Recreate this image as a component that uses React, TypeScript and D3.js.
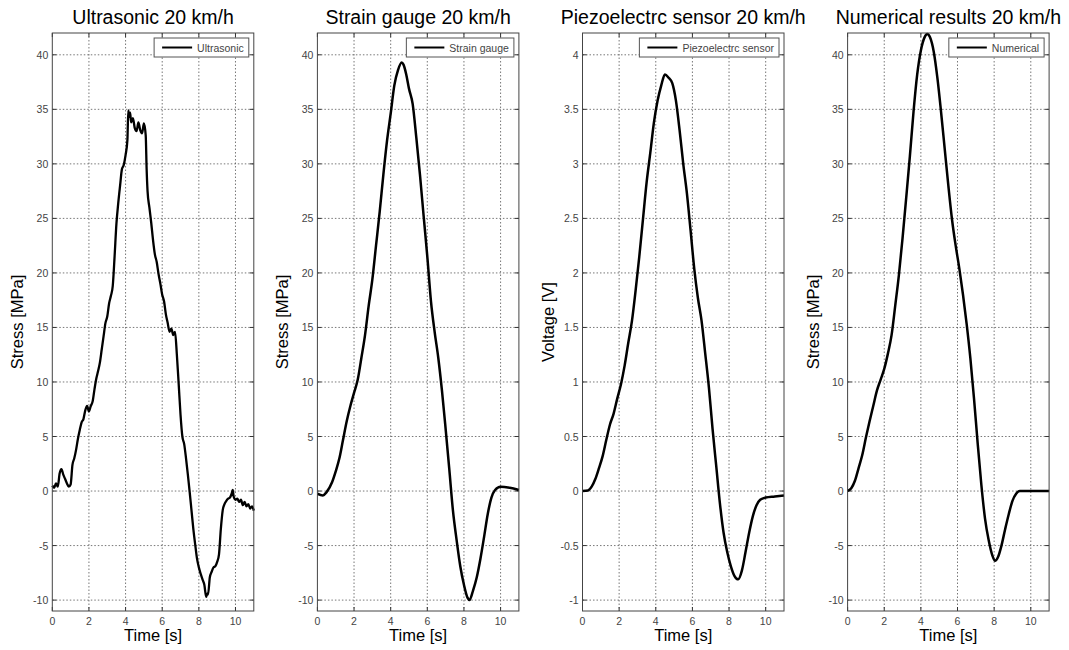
import React, { useEffect, useRef } from "react";
import * as d3 from "d3";

// [time s, value] pairs
const ultrasonic: [number, number][] = [
  [0, 0.5], [0.1, 0.3], [0.2, 0.7], [0.3, 0.4], [0.4, 1.6], [0.5, 2.0], [0.6, 1.5], [0.7, 1.1],
  [0.8, 0.7], [0.9, 0.4], [1.0, 0.6], [1.1, 2.4], [1.2, 3.0], [1.3, 3.8], [1.4, 4.8], [1.5, 5.6],
  [1.6, 6.3], [1.7, 6.6], [1.8, 7.4], [1.9, 7.8], [2.0, 7.3], [2.1, 7.8], [2.2, 8.2], [2.3, 9.3],
  [2.4, 10.3], [2.5, 11.0], [2.6, 11.8], [2.7, 13.0], [2.8, 14.2], [2.9, 15.4], [3.0, 16.0],
  [3.1, 17.2], [3.2, 17.9], [3.3, 18.8], [3.4, 21.5], [3.5, 24.5], [3.6, 26.4], [3.7, 28.0],
  [3.8, 29.5], [3.9, 29.9], [4.0, 30.8], [4.1, 32.2], [4.15, 34.9], [4.2, 34.3], [4.25, 34.7],
  [4.3, 33.8], [4.4, 34.2], [4.5, 33.3], [4.6, 33.0], [4.7, 33.8], [4.8, 33.1], [4.9, 32.8],
  [5.0, 33.7], [5.1, 32.6], [5.15, 29.5], [5.2, 27.5], [5.3, 26.0], [5.4, 24.6], [5.5, 23.0],
  [5.6, 21.7], [5.7, 21.0], [5.8, 19.9], [5.9, 19.0], [6.0, 18.0], [6.1, 17.4], [6.2, 16.2],
  [6.3, 15.4], [6.4, 14.6], [6.5, 14.9], [6.6, 14.3], [6.7, 14.6], [6.8, 12.5], [6.9, 9.8],
  [7.0, 7.0], [7.1, 5.0], [7.2, 4.3], [7.3, 3.0], [7.4, 1.5], [7.5, -0.1], [7.6, -1.8],
  [7.7, -3.5], [7.8, -4.9], [7.9, -6.2], [8.0, -7.0], [8.1, -7.6], [8.2, -8.1], [8.3, -8.6],
  [8.4, -9.7], [8.45, -9.4], [8.5, -9.5], [8.6, -7.9], [8.7, -7.4], [8.8, -7.0], [8.9, -6.9],
  [9.0, -6.5], [9.1, -5.8], [9.2, -3.5], [9.3, -1.8], [9.4, -1.2], [9.5, -0.9], [9.6, -0.7],
  [9.7, -0.6], [9.8, -0.2], [9.85, 0.1], [9.9, -0.5], [10.0, -0.8], [10.1, -0.7], [10.2, -1.0],
  [10.3, -0.8], [10.4, -1.3], [10.5, -1.0], [10.6, -1.4], [10.7, -1.2], [10.8, -1.6],
  [10.9, -1.4], [11.0, -1.8],
];

const strainGauge: [number, number][] = [
  [0, -0.25], [0.3, -0.4], [0.5, -0.1], [0.8, 0.8], [1.0, 1.8], [1.2, 3.0], [1.4, 4.7],
  [1.6, 6.4], [1.8, 7.8], [2.0, 9.0], [2.2, 10.2], [2.4, 12.2], [2.6, 14.3], [2.8, 17.0],
  [3.0, 19.4], [3.2, 22.5], [3.4, 25.6], [3.6, 29.0], [3.8, 32.1], [4.0, 34.6], [4.2, 37.2],
  [4.4, 38.6], [4.6, 39.3], [4.7, 39.1], [4.85, 38.2], [5.0, 36.9], [5.2, 35.5], [5.4, 32.4],
  [5.6, 29.0], [5.8, 25.2], [6.0, 21.5], [6.2, 17.4], [6.4, 14.6], [6.6, 12.2], [6.8, 9.2],
  [7.0, 5.7], [7.2, 2.0], [7.4, -1.8], [7.6, -4.5], [7.8, -6.9], [8.0, -8.6], [8.2, -9.8],
  [8.3, -10.0], [8.5, -9.1], [8.7, -7.9], [8.9, -6.2], [9.1, -4.2], [9.3, -2.1], [9.5, -0.6],
  [9.7, 0.1], [10.0, 0.4], [10.5, 0.3], [11.0, 0.1],
];

const piezo: [number, number][] = [
  [0, 0.0], [0.3, 0.005], [0.5, 0.04], [0.7, 0.11], [0.9, 0.21], [1.1, 0.32], [1.3, 0.47],
  [1.5, 0.61], [1.7, 0.71], [1.9, 0.85], [2.1, 0.98], [2.3, 1.15], [2.5, 1.36], [2.7, 1.56],
  [2.9, 1.84], [3.1, 2.15], [3.3, 2.49], [3.5, 2.83], [3.7, 3.1], [3.9, 3.38], [4.1, 3.58],
  [4.3, 3.72], [4.5, 3.82], [4.7, 3.79], [4.9, 3.74], [5.1, 3.58], [5.3, 3.31], [5.5, 3.0],
  [5.7, 2.73], [5.9, 2.39], [6.1, 2.04], [6.3, 1.77], [6.5, 1.56], [6.7, 1.26], [6.9, 0.95],
  [7.1, 0.57], [7.3, 0.23], [7.5, -0.11], [7.7, -0.38], [7.9, -0.56], [8.1, -0.69], [8.3, -0.78],
  [8.5, -0.81], [8.7, -0.73], [8.9, -0.56], [9.1, -0.38], [9.3, -0.23], [9.5, -0.13],
  [9.7, -0.08], [10.0, -0.06], [10.5, -0.05], [11.0, -0.04],
];

const numerical: [number, number][] = [
  [0, 0.02], [0.2, 0.26], [0.4, 0.94], [0.6, 2.1], [0.8, 3.3], [1.0, 4.9], [1.2, 6.4], [1.4, 7.8],
  [1.6, 9.2], [1.8, 10.2], [2.0, 11.2], [2.2, 12.6], [2.4, 14.3], [2.6, 17.0], [2.8, 19.8],
  [3.0, 23.2], [3.2, 26.9], [3.4, 30.7], [3.6, 34.8], [3.8, 38.2], [4.0, 40.4], [4.2, 41.6],
  [4.35, 41.9], [4.5, 41.6], [4.7, 40.3], [4.9, 37.9], [5.1, 34.8], [5.3, 31.4], [5.5, 28.0],
  [5.7, 24.9], [5.9, 22.5], [6.1, 20.4], [6.3, 18.0], [6.5, 15.3], [6.7, 12.2], [6.9, 8.5],
  [7.1, 4.4], [7.3, 0.6], [7.5, -2.5], [7.7, -4.5], [7.9, -5.9], [8.05, -6.4], [8.2, -6.1],
  [8.4, -5.0], [8.6, -3.5], [8.8, -2.1], [9.0, -0.9], [9.2, -0.25], [9.4, 0.0], [10.0, 0.0],
  [11.0, 0.0],
];

const titles = [
  "Ultrasonic 20 km/h",
  "Strain gauge 20 km/h",
  "Piezoelectrc sensor 20 km/h",
  "Numerical results 20 km/h",
];
const legendLabels = ["Ultrasonic", "Strain gauge", "Piezoelectrc sensor", "Numerical"];
const yLabels = ["Stress [MPa]", "Stress [MPa]", "Voltage [V]", "Stress [MPa]"];
const xTicks = [0, 2, 4, 6, 8, 10];
const stressTicks = [-10, -5, 0, 5, 10, 15, 20, 25, 30, 35, 40];
const voltTicks = [-1, -0.5, 0, 0.5, 1, 1.5, 2, 2.5, 3, 3.5, 4];

const W = 1069;
const H = 650;
const FONT = "'Liberation Sans', Arial, sans-serif";

const App = () => {
  const ref = useRef<SVGSVGElement>(null);

  useEffect(() => {
    const svg = d3.select(ref.current);
    svg.selectAll("*").remove();

    const panels = [
      { data: ultrasonic, domain: [-11, 42], ticks: stressTicks },
      { data: strainGauge, domain: [-11, 42], ticks: stressTicks },
      { data: piezo, domain: [-1.1, 4.2], ticks: voltTicks },
      { data: numerical, domain: [-11, 42], ticks: stressTicks },
    ];

    const top = 33;
    const bottom = 611;
    const pw = 201.5;

    panels.forEach((p, i) => {
      const left = 52.3 + i * 265.1;
      const right = left + pw;

      const x = d3.scaleLinear().domain([0, 11]).range([left, right]);
      const y = d3.scaleLinear().domain(p.domain).range([bottom, top]);

      const g = svg.append("g");

      // grid
      g.selectAll(".gx")
        .data(xTicks.filter(t => t > 0))
        .join("line")
        .attr("x1", d => x(d)).attr("x2", d => x(d))
        .attr("y1", top).attr("y2", bottom)
        .attr("stroke", "#555").attr("stroke-width", 0.8)
        .attr("stroke-dasharray", "1.5,2");
      g.selectAll(".gy")
        .data(p.ticks)
        .join("line")
        .attr("x1", left).attr("x2", right)
        .attr("y1", d => y(d)).attr("y2", d => y(d))
        .attr("stroke", "#555").attr("stroke-width", 0.8)
        .attr("stroke-dasharray", "1.5,2");

      // inward ticks on all four sides
      const tl = 4;
      xTicks.forEach(t => {
        g.append("line").attr("x1", x(t)).attr("x2", x(t)).attr("y1", bottom).attr("y2", bottom - tl).attr("stroke", "#333");
        g.append("line").attr("x1", x(t)).attr("x2", x(t)).attr("y1", top).attr("y2", top + tl).attr("stroke", "#333");
      });
      p.ticks.forEach(t => {
        g.append("line").attr("x1", left).attr("x2", left + tl).attr("y1", y(t)).attr("y2", y(t)).attr("stroke", "#333");
        g.append("line").attr("x1", right).attr("x2", right - tl).attr("y1", y(t)).attr("y2", y(t)).attr("stroke", "#333");
      });

      // curve
      const line = d3.line<[number, number]>()
        .x(d => x(d[0]))
        .y(d => y(d[1]))
        .curve(d3.curveMonotoneX);

      g.append("path")
        .datum(p.data)
        .attr("fill", "none")
        .attr("stroke", "#000")
        .attr("stroke-width", i === 0 ? 2.3 : 2.5)
        .attr("stroke-linejoin", "round")
        .attr("d", line);

      // frame
      g.append("rect")
        .attr("x", left).attr("y", top)
        .attr("width", pw).attr("height", bottom - top)
        .attr("fill", "none").attr("stroke", "#444").attr("stroke-width", 1);

      // tick labels
      g.selectAll(".xl")
        .data(xTicks)
        .join("text")
        .attr("x", d => x(d)).attr("y", bottom + 14)
        .attr("text-anchor", "middle")
        .attr("font-family", FONT).attr("font-size", 10.5).attr("fill", "#444")
        .text(d => String(d));
      g.selectAll(".yl")
        .data(p.ticks)
        .join("text")
        .attr("x", left - 4).attr("y", d => y(d) + 4)
        .attr("text-anchor", "end")
        .attr("font-family", FONT).attr("font-size", 10.5).attr("fill", "#444")
        .text(d => String(d));

      // title and axis labels
      g.append("text")
        .attr("x", (left + right) / 2).attr("y", 24)
        .attr("text-anchor", "middle")
        .attr("font-family", FONT).attr("font-size", 19.5).attr("fill", "#000")
        .text(titles[i]);
      g.append("text")
        .attr("x", (left + right) / 2).attr("y", 641)
        .attr("text-anchor", "middle")
        .attr("font-family", FONT).attr("font-size", 16.5).attr("fill", "#000")
        .text("Time [s]");
      g.append("text")
        .attr("transform", `translate(${left - 29},${(top + bottom) / 2}) rotate(-90)`)
        .attr("text-anchor", "middle")
        .attr("font-family", FONT).attr("font-size", 16.5).attr("fill", "#000")
        .text(yLabels[i]);

      // legend
      const lg = g.append("g");
      const box = lg.append("rect")
        .attr("fill", "#fff").attr("stroke", "#555").attr("stroke-width", 1);
      const txt = lg.append("text")
        .attr("font-family", FONT).attr("font-size", 10.5).attr("fill", "#444")
        .text(legendLabels[i]);
      const tw = (txt.node() as SVGTextElement).getComputedTextLength();
      const bw = tw + 8 + 30 + 5 + 5;
      const bx = right - 5 - bw;
      const by = top + 5;
      box.attr("x", bx).attr("y", by).attr("width", bw).attr("height", 19);
      lg.append("line")
        .attr("x1", bx + 8).attr("x2", bx + 38)
        .attr("y1", by + 9.5).attr("y2", by + 9.5)
        .attr("stroke", "#000").attr("stroke-width", 2);
      txt.attr("x", bx + 43).attr("y", by + 13.5);
    });
  }, []);

  return (
    <svg
      ref={ref}
      width={W}
      height={H}
      style={{ position: "absolute", left: 0, top: 0, background: "#fff" }}
    />
  );
};

export default App;
